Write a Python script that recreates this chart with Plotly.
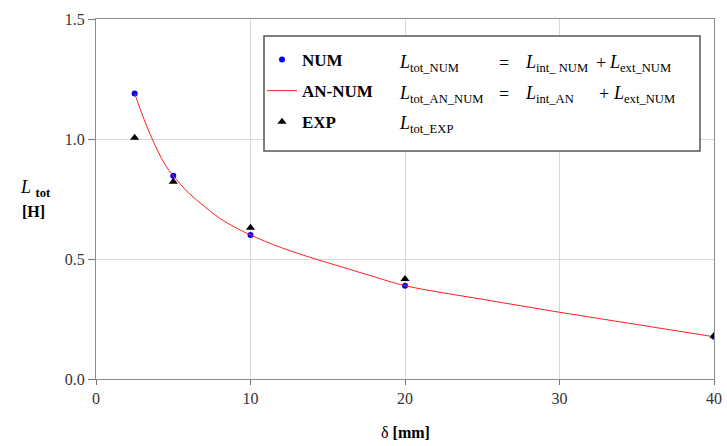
import plotly.graph_objects as go

# ---- data ----
delta_num = [2.5, 5, 10, 20, 40]
L_num = [1.19, 0.847, 0.60, 0.389, 0.176]

delta_exp = [2.5, 5, 10, 20, 40]
L_exp = [1.005, 0.822, 0.63, 0.417, 0.18]

delta_an = [2.5, 3, 3.5, 4, 4.5, 5, 6, 7, 8, 9, 10, 12, 14, 16, 18, 20, 25, 30, 35, 40]
L_an = [1.19, 1.10, 1.02, 0.95, 0.89, 0.847, 0.775, 0.72, 0.67, 0.632, 0.60,
        0.547, 0.504, 0.465, 0.426, 0.389, 0.332, 0.278, 0.227, 0.176]

x_ticks = [0, 10, 20, 30, 40]
y_ticks = [0.0, 0.5, 1.0, 1.5]

W, H = 727, 446
ML, MR, MT, MB = 96, 13, 19, 67
PW, PH = W - ML - MR, H - MT - MB

def px(x):
    return (x - ML) / PW

def py(y):
    return (H - MB - y) / PH

FONT = "Liberation Serif"

fig = go.Figure()
fig.add_trace(go.Scatter(x=delta_num, y=L_num, mode="markers", name="<b>NUM</b>",
                         legendgroup="a",
                         marker=dict(color="#0000ff", size=6, symbol="circle")))
fig.add_trace(go.Scatter(x=delta_an, y=L_an, mode="lines", name="<b>AN-NUM</b>",
                         legendgroup="b", line_shape="spline",
                         line=dict(color="#ff2020", width=1)))
fig.add_trace(go.Scatter(x=delta_exp, y=L_exp, mode="markers", name="<b>EXP</b>",
                         legendgroup="c",
                         marker=dict(color="#000000", size=8, symbol="triangle-up")))

fig.update_layout(
    width=W, height=H,
    margin=dict(l=ML, r=MR, t=MT, b=MB, autoexpand=False),
    paper_bgcolor="white", plot_bgcolor="white",
    font=dict(family=FONT, size=15, color="#333"),
    showlegend=True,
    legend=dict(x=px(262), y=py(42), xanchor="left", yanchor="top",
                bgcolor="rgba(0,0,0,0)", borderwidth=0,
                font=dict(family=FONT, size=17, color="#000"),
                tracegroupgap=6, itemwidth=30),
    xaxis=dict(range=[0, 40], tickvals=x_ticks, showgrid=True, gridcolor="#d9d9d9",
               showline=True, linecolor="#8c8c8c", mirror=True, linewidth=1,
               ticks="outside", ticklen=5, tickcolor="#777", zeroline=False,
               automargin=False,
               tickfont=dict(family=FONT, size=16, color="#333")),
    yaxis=dict(range=[0, 1.5], tickvals=y_ticks, tickformat=".1f", showgrid=True,
               gridcolor="#d9d9d9", showline=True, linecolor="#8c8c8c", mirror=True,
               linewidth=1, ticks="outside", ticklen=7, tickcolor="#777",
               zeroline=False, automargin=False,
               tickfont=dict(family=FONT, size=16, color="#333")),
)

# legend box
fig.add_shape(type="rect", xref="paper", yref="paper",
              x0=px(264), x1=px(700), y0=py(151), y1=py(36),
              line=dict(color="#555", width=1.5), fillcolor="white", layer="above")

def ann(x, y, text, size=18, anchor="left"):
    fig.add_annotation(xref="paper", yref="paper", x=px(x), y=py(y), text=text,
                       showarrow=False, xanchor=anchor, yanchor="middle",
                       font=dict(family=FONT, size=size, color="#000"))

rows = [63, 94, 125]
ann(397, rows[0], "<i>L</i><sub>tot_NUM</sub>")
ann(497, rows[0], "=")
ann(523, rows[0], "<i>L</i><sub>int_ NUM</sub>")
ann(594, rows[0], "+")
ann(607, rows[0], "<i>L</i><sub>ext_NUM</sub>")

ann(397, rows[1], "<i>L</i><sub>tot_AN_NUM</sub>")
ann(497, rows[1], "=")
ann(523, rows[1], "<i>L</i><sub>int_AN</sub>")
ann(597, rows[1], "+")
ann(611, rows[1], "<i>L</i><sub>ext_NUM</sub>")

ann(397, rows[2], "<i>L</i><sub>tot_EXP</sub>")

# axis titles
ann(35, 188, "<i>L</i> <sub><b>tot</b></sub>", size=18, anchor="center")
ann(33, 211, "<b>[H]</b>", size=16, anchor="center")
ann(405, 433, "δ <b>[mm]</b>", size=16, anchor="center")

fig.write_html("out.html")
